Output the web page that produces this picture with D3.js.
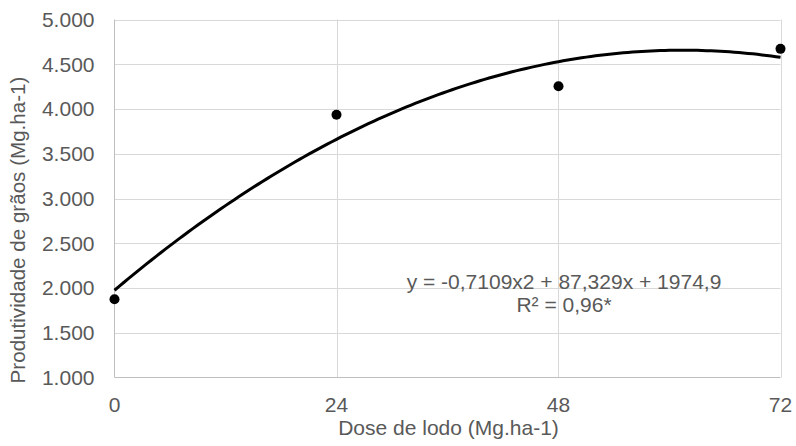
<!DOCTYPE html>
<html><head><meta charset="utf-8">
<script src="https://cdn.jsdelivr.net/npm/d3@7"></script>
<style>body{margin:0;background:#fff}svg{display:block}text{font-family:"Liberation Sans",Arial,sans-serif;fill:#595959}</style>
</head><body>
<script>
const doses = [0, 24, 48, 72];
const yields = [1875, 3935, 4255, 4672];
const trendCoef = [-0.7109, 87.329, 1974.9]; // a, b, c of displayed regression
const xTicks = [0, 24, 48, 72];
const yTicks = [1000, 1500, 2000, 2500, 3000, 3500, 4000, 4500, 5000];
const eqLines = ["y = -0,7109x2 + 87,329x + 1974,9", "R² = 0,96*"];
const xTitle = "Dose de lodo (Mg.ha-1)";
const yTitle = "Produtividade  de grãos (Mg.ha-1)";

const W = 796, H = 446;
const svg = d3.select("body").append("svg").attr("width", W).attr("height", H);
const x = d3.scaleLinear().domain([0, 72]).range([114.5, 780.5]);
const y = d3.scaleLinear().domain([1000, 5000]).range([377.5, 19.5]);

// horizontal gridlines
svg.append("g").selectAll("line").data(yTicks.slice(1)).join("line")
  .attr("x1", x(0)).attr("x2", x(72)).attr("y1", d => Math.round(y(d)) + 0.5).attr("y2", d => Math.round(y(d)) + 0.5)
  .attr("stroke", "#d9d9d9").attr("stroke-width", 1);
// vertical gridlines
svg.append("g").selectAll("line").data(xTicks.slice(1)).join("line")
  .attr("x1", d => Math.round(x(d)) + 0.5).attr("x2", d => Math.round(x(d)) + 0.5).attr("y1", y(5000)).attr("y2", y(1000))
  .attr("stroke", "#d9d9d9").attr("stroke-width", 1);
// axes lines
svg.append("line").attr("x1", x(0)).attr("x2", x(0)).attr("y1", y(5000)).attr("y2", y(1000)).attr("stroke", "#bfbfbf");
svg.append("line").attr("x1", x(0)).attr("x2", x(72)).attr("y1", y(1000)).attr("y2", y(1000)).attr("stroke", "#bfbfbf");

// y tick labels
svg.append("g").selectAll("text").data(yTicks).join("text")
  .attr("x", 94.5).attr("y", d => y(d)).attr("dy", "0.35em").attr("text-anchor", "end")
  .style("font-size", "21px").text(d => d3.format(".3f")(d / 1000));
// x tick labels
svg.append("g").selectAll("text").data(xTicks).join("text")
  .attr("x", d => x(d)).attr("y", 412).attr("text-anchor", "middle")
  .style("font-size", "21px").text(d => d);

// titles
svg.append("text").attr("x", 448.5).attr("y", 435).attr("text-anchor", "middle")
  .style("font-size", "21px").text(xTitle);
svg.append("text").attr("transform", `translate(25,230) rotate(-90)`)
  .attr("text-anchor", "middle").style("font-size", "20.6px").text(yTitle);

// trendline
const [a, b, c] = trendCoef;
const xs = d3.range(0, 72.01, 0.5);
svg.append("path").datum(xs)
  .attr("d", d3.line().x(d => x(d)).y(d => y(a * d * d + b * d + c)))
  .attr("fill", "none").attr("stroke", "#000").attr("stroke-width", 3);

// points
svg.append("g").selectAll("circle").data(doses).join("circle")
  .attr("cx", d => x(d)).attr("cy", (d, i) => y(yields[i])).attr("r", 5).attr("fill", "#000");

// equation
svg.append("g").selectAll("text").data(eqLines).join("text")
  .attr("x", 564).attr("y", (d, i) => 289 + i * 22.5).attr("text-anchor", "middle")
  .style("font-size", "21px").text(d => d);
</script>
</body></html>
